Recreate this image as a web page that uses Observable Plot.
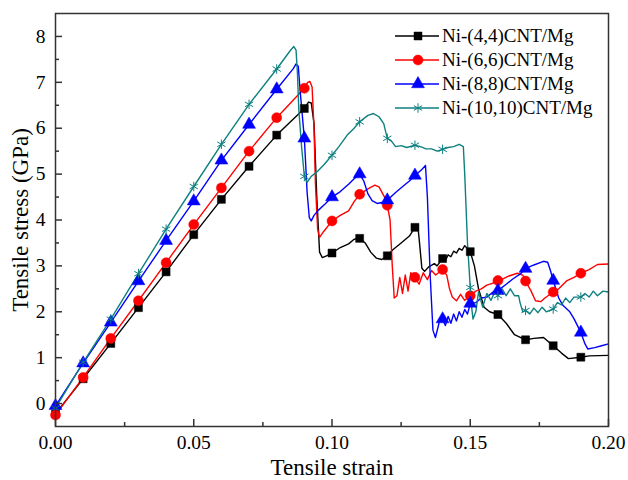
<!DOCTYPE html>
<html>
<head>
<meta charset="utf-8">
<script src="https://cdn.jsdelivr.net/npm/d3@7"></script>
<script src="https://cdn.jsdelivr.net/npm/@observablehq/plot@0.6"></script>
<style>
  html, body { margin: 0; padding: 0; background: #fff; }
  #wrap { position: relative; width: 628px; height: 480px; font-family: "Liberation Serif", "Times New Roman", serif; }
  #legend { position: absolute; left: 393px; top: 24px; }
  .row { display: flex; align-items: center; height: 24px; font-size: 19px; color: #000; }
  .row svg { width: 48px; height: 20px; margin-right: 1px; }
</style>
</head>
<body>
<div id="wrap"><div id="legend"></div></div>
<script>
// ---- data ----
const seriesNames = ["Ni-(4,4)CNT/Mg", "Ni-(6,6)CNT/Mg", "Ni-(8,8)CNT/Mg", "Ni-(10,10)CNT/Mg"];
const seriesColors = ["#000000", "#ff0000", "#0000ff", "#0e8080"];
const seriesSymbols = ["square", "circle", "triangle", "asterisk"];

const cnt44 = [[0,-0.22],[0.01,0.54],[0.02,1.31],[0.03,2.09],[0.04,2.87],[0.05,3.68],[0.06,4.45],[0.07,5.17],[0.08,5.85],[0.09,6.43],[0.0915,6.57],[0.0925,6.55],[0.0935,6.1],[0.0945,4.5],[0.0955,3.3],[0.0965,3.18],[0.098,3.22],[0.1,3.28],[0.103,3.4],[0.106,3.48],[0.108,3.58],[0.11,3.6],[0.112,3.5],[0.114,3.3],[0.116,3.17],[0.118,3.14],[0.12,3.22],[0.122,3.35],[0.125,3.5],[0.128,3.65],[0.13,3.84],[0.131,3.9],[0.1315,3.6],[0.1325,2.95],[0.1335,2.88],[0.135,2.98],[0.137,3.05],[0.138,3.0],[0.14,3.16],[0.141,3.12],[0.142,3.24],[0.143,3.2],[0.144,3.32],[0.145,3.28],[0.146,3.38],[0.147,3.34],[0.148,3.44],[0.149,3.38],[0.15,3.31],[0.1515,3.0],[0.153,2.5],[0.155,2.1],[0.157,2.0],[0.16,1.94],[0.163,1.75],[0.166,1.5],[0.17,1.39],[0.173,1.42],[0.1765,1.44],[0.18,1.26],[0.183,1.1],[0.1855,0.98],[0.19,1.01],[0.193,1.04],[0.2,1.05]];

const cnt66 = [[0,-0.25],[0.01,0.57],[0.02,1.42],[0.03,2.24],[0.04,3.07],[0.05,3.9],[0.06,4.7],[0.07,5.5],[0.08,6.23],[0.09,6.87],[0.0912,7.0],[0.092,7.02],[0.0928,6.9],[0.0935,6.0],[0.094,4.8],[0.0948,3.8],[0.0955,3.62],[0.097,3.75],[0.1,3.98],[0.103,4.1],[0.106,4.2],[0.108,4.4],[0.11,4.56],[0.113,4.68],[0.1155,4.76],[0.117,4.72],[0.119,4.5],[0.12,4.32],[0.121,4.0],[0.1218,3.0],[0.1225,2.3],[0.1235,2.35],[0.1245,2.75],[0.1255,2.4],[0.1265,2.8],[0.1275,2.45],[0.1285,2.85],[0.13,2.75],[0.1315,2.6],[0.133,2.85],[0.1345,2.7],[0.136,2.9],[0.1375,2.8],[0.14,2.92],[0.1415,2.8],[0.1425,2.5],[0.1435,2.32],[0.145,2.24],[0.1465,2.38],[0.148,2.25],[0.15,2.35],[0.152,2.45],[0.154,2.5],[0.156,2.58],[0.158,2.62],[0.16,2.68],[0.162,2.72],[0.164,2.78],[0.167,2.84],[0.169,2.8],[0.17,2.67],[0.172,2.45],[0.1736,2.24],[0.1755,2.22],[0.177,2.3],[0.18,2.43],[0.182,2.5],[0.185,2.68],[0.1875,2.75],[0.19,2.84],[0.193,2.92],[0.196,3.03],[0.2,3.04]];

const cnt88 = [[0,-0.05],[0.01,0.88],[0.02,1.77],[0.03,2.67],[0.04,3.55],[0.05,4.41],[0.06,5.3],[0.07,6.08],[0.08,6.85],[0.086,7.3],[0.087,7.4],[0.0878,7.35],[0.0885,6.8],[0.09,5.78],[0.091,4.6],[0.0918,4.05],[0.0925,3.98],[0.0935,4.1],[0.095,4.21],[0.0975,4.35],[0.1,4.5],[0.103,4.62],[0.106,4.78],[0.108,4.9],[0.11,5.0],[0.1115,4.85],[0.113,4.57],[0.1145,4.42],[0.1163,4.36],[0.118,4.38],[0.12,4.43],[0.123,4.6],[0.126,4.75],[0.128,4.85],[0.13,4.97],[0.1325,5.1],[0.1338,5.19],[0.1345,4.5],[0.1355,2.8],[0.1365,1.6],[0.1374,1.44],[0.1385,1.7],[0.139,1.85],[0.14,1.84],[0.141,1.7],[0.142,1.9],[0.143,1.75],[0.144,1.95],[0.145,1.8],[0.146,2.0],[0.147,1.88],[0.148,2.05],[0.149,1.95],[0.15,2.18],[0.152,2.2],[0.154,2.3],[0.156,2.32],[0.158,2.42],[0.16,2.46],[0.163,2.6],[0.1655,2.72],[0.168,2.82],[0.17,2.94],[0.173,3.02],[0.1765,3.1],[0.178,3.08],[0.179,2.9],[0.18,2.68],[0.182,2.3],[0.1835,2.14],[0.186,2.0],[0.1875,1.85],[0.19,1.55],[0.1915,1.3],[0.1925,1.19],[0.195,1.22],[0.1975,1.26],[0.2,1.3]];

const cnt1010 = [[0,-0.1],[0.01,0.9],[0.02,1.84],[0.03,2.83],[0.04,3.8],[0.05,4.73],[0.06,5.65],[0.07,6.52],[0.08,7.29],[0.085,7.7],[0.0862,7.78],[0.087,7.7],[0.0875,7.2],[0.088,6.4],[0.089,5.6],[0.09,4.95],[0.091,4.82],[0.0925,4.95],[0.0946,5.05],[0.097,5.2],[0.1,5.41],[0.1025,5.6],[0.1055,5.85],[0.108,6.0],[0.11,6.14],[0.113,6.28],[0.115,6.32],[0.117,6.25],[0.1187,6.1],[0.12,5.78],[0.1215,5.72],[0.123,5.6],[0.125,5.62],[0.127,5.58],[0.13,5.63],[0.132,5.6],[0.134,5.55],[0.136,5.55],[0.138,5.5],[0.14,5.54],[0.142,5.58],[0.144,5.6],[0.146,5.65],[0.1475,5.6],[0.148,5.0],[0.149,3.5],[0.15,2.53],[0.1505,2.1],[0.151,1.84],[0.152,2.0],[0.153,2.43],[0.1545,2.1],[0.156,2.4],[0.1575,2.25],[0.159,2.45],[0.16,2.35],[0.1615,2.5],[0.163,2.35],[0.1645,2.5],[0.166,2.35],[0.1675,2.35],[0.168,2.2],[0.169,2.0],[0.17,2.03],[0.1715,1.95],[0.173,2.08],[0.1745,1.98],[0.176,2.1],[0.1775,2.0],[0.18,2.06],[0.1815,2.2],[0.183,2.15],[0.1845,2.3],[0.186,2.2],[0.1875,2.32],[0.19,2.32],[0.1915,2.4],[0.193,2.32],[0.1945,2.45],[0.196,2.35],[0.198,2.45],[0.2,2.43]];

const xMajor = [0, 0.05, 0.10, 0.15, 0.20];
const xMinor = [0.025, 0.075, 0.125, 0.175];
const yMajor = [0, 1, 2, 3, 4, 5, 6, 7, 8];
const yMinor = [0.5, 1.5, 2.5, 3.5, 4.5, 5.5, 6.5, 7.5];

// ---- build tables ----
const allSeries = [cnt44, cnt66, cnt88, cnt1010];
const rows = [];
allSeries.forEach((s, i) => s.forEach(([x, y]) => rows.push({x, y, s: seriesNames[i]})));
const markers = rows.filter(d => Math.abs(d.x * 100 - Math.round(d.x * 100)) < 1e-6 && d.x < 0.1999);

const markR = [4.5, 5, 4.8, 4.5];

const marks = [];
seriesNames.forEach((name, i) => {
  marks.push(Plot.line(rows.filter(d => d.s === name), {x: "x", y: "y", stroke: seriesColors[i], strokeWidth: 1.4}));
});
seriesNames.forEach((name, i) => {
  const isStroke = seriesSymbols[i] === "asterisk";
  marks.push(Plot.dot(markers.filter(d => d.s === name), {
    x: "x", y: "y", symbol: () => seriesSymbols[i], r: markR[i],
    fill: isStroke ? "none" : seriesColors[i],
    stroke: seriesColors[i], strokeWidth: isStroke ? 1 : 0.5
  }));
});

const chart = Plot.plot({
  width: 628,
  height: 480,
  marginLeft: 55,
  marginRight: 20,
  marginTop: 13,
  marginBottom: 54,
  style: {fontFamily: "'Liberation Serif', serif", fontSize: "19px", background: "#fff", color: "#000"},
  x: {domain: [0, 0.2]},
  y: {domain: [-0.5, 8.5]},
  symbol: {type: "identity"},
  marks: [
    ...marks,
    Plot.axisX(xMajor, {tickSize: -7, tickFormat: () => "", label: null, strokeWidth: 1.5, stroke: "#333"}),
    Plot.axisX(xMinor, {tickSize: -4, tickFormat: () => "", label: null, strokeWidth: 1.5, stroke: "#333"}),
    Plot.axisX(xMajor, {tickSize: 0, tickPadding: 9, tickFormat: d3.format(".2f"), fontSize: 19.5, fill: "#000",
      label: "Tensile strain", labelAnchor: "center", labelArrow: "none", labelOffset: 48}),
    Plot.axisY(yMajor, {tickSize: -7, tickFormat: () => "", label: null, strokeWidth: 1.5, stroke: "#333"}),
    Plot.axisY(yMinor, {tickSize: -4, tickFormat: () => "", label: null, strokeWidth: 1.5, stroke: "#333"}),
    Plot.axisY(yMajor, {tickSize: 0, tickPadding: 10, tickFormat: d3.format("d"), fontSize: 19.5, fill: "#000",
      label: "Tensile stress (GPa)", labelAnchor: "center", labelArrow: "none", labelOffset: 44}),
    Plot.frame({stroke: "#333", strokeWidth: 1.5})
  ]
});
document.getElementById("wrap").prepend(chart);

// axis titles larger
chart.querySelectorAll("[aria-label='x-axis label'] text, [aria-label='y-axis label'] text").forEach(t => t.setAttribute("font-size", "23"));

// ---- legend ----
const symTypes = {square: d3.symbolSquare, circle: d3.symbolCircle, triangle: d3.symbolTriangle, asterisk: d3.symbolAsterisk};
const legend = d3.select("#legend");
seriesNames.forEach((name, i) => {
  const row = legend.append("div").attr("class", "row");
  const svg = row.append("svg");
  svg.append("line").attr("x1", 2).attr("x2", 46).attr("y1", 10).attr("y2", 10)
    .attr("stroke", seriesColors[i]).attr("stroke-width", 1.4);
  const isStroke = seriesSymbols[i] === "asterisk";
  svg.append("path").attr("transform", "translate(25,10)")
    .attr("d", d3.symbol(symTypes[seriesSymbols[i]], Math.PI * markR[i] * markR[i])())
    .attr("fill", isStroke ? "none" : seriesColors[i])
    .attr("stroke", seriesColors[i]).attr("stroke-width", isStroke ? 1 : 0.5);
  row.append("span").text(name);
});
</script>
</body>
</html>
